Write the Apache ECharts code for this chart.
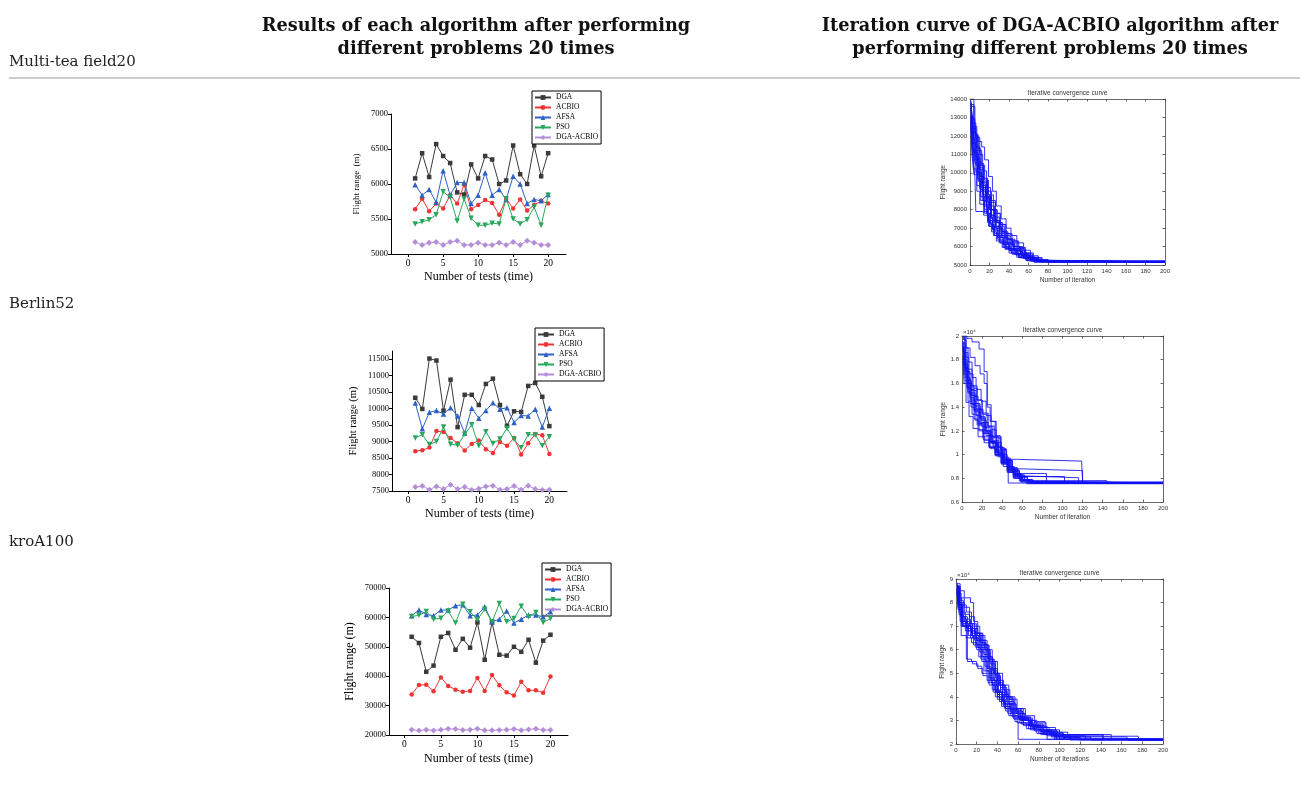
<!DOCTYPE html>
<html><head><meta charset="utf-8">
<script src="https://cdn.jsdelivr.net/npm/echarts@6/dist/echarts.min.js"></script>
<style>html,body{margin:0;padding:0;background:#fff}#c{width:1308px;height:809px}</style>
</head><body><div id="c"></div>
<script>
// ---------------- DATA ----------------
const testRuns = [1,2,3,4,5,6,7,8,9,10,11,12,13,14,15,16,17,18,19,20];
const algorithms = ['DGA','ACBIO','AFSA','PSO','DGA-ACBIO'];
const runTicks = [0,5,10,15,20];

// Multi-tea field20
const teaDGA   = [6080,6440,6100,6570,6400,6300,5880,5850,6280,6080,6400,6350,6000,6050,6550,6140,6000,6550,6110,6440];
const teaACBIO = [5640,5790,5610,5720,5650,5840,5720,5990,5640,5700,5770,5730,5560,5790,5650,5780,5620,5700,5760,5720];
const teaAFSA  = [5990,5840,5920,5740,6190,5840,6020,6020,5720,5840,6160,5840,5920,5780,6110,6000,5720,5780,5760,5850];
const teaPSO   = [5430,5460,5490,5560,5890,5810,5470,5790,5510,5410,5410,5440,5430,5790,5500,5430,5490,5670,5410,5840];
const teaDGAACBIO = [5170,5130,5160,5170,5130,5170,5190,5130,5130,5160,5130,5130,5160,5130,5170,5130,5190,5160,5130,5130];
const teaYTicks = [5000,5500,6000,6500,7000];

// Berlin52
const berDGA   = [10330,9990,11520,11460,9940,10880,9440,10420,10420,10110,10750,10910,10110,9480,9920,9900,10690,10780,10360,9470];
const berACBIO = [8710,8740,8820,9320,9290,9110,8950,8730,8930,9030,8770,8650,8990,8870,9110,8610,8950,9230,9190,8620];
const berAFSA  = [10170,9390,9890,9940,9840,10030,9780,9260,10010,9710,9940,10180,9980,10030,9580,9790,9780,9980,9440,10010];
const berPSO   = [9110,9210,8910,9000,9440,8920,8890,9220,9510,8870,9300,8940,9080,9400,9070,8810,9210,9200,8870,9150];
const berDGAACBIO = [7620,7650,7540,7640,7560,7690,7560,7620,7530,7570,7640,7660,7540,7560,7650,7540,7660,7560,7530,7540];
const berYTicks = [7500,8000,8500,9000,9500,10000,10500,11000,11500];

// kroA100
const kroDGA   = [53400,51300,41500,43600,53400,54700,49000,52700,49700,58300,45600,58300,47300,47000,50000,48300,52400,44600,52100,54100];
const kroACBIO = [33800,37000,37100,34900,39600,36700,35400,34700,35000,39400,35000,40400,36900,34500,33400,38100,35200,35200,34400,39900];
const kroAFSA  = [60600,62500,61000,60600,62500,62500,64000,64300,60600,60800,63600,58500,59400,62200,58100,59400,60800,60800,60200,61900];
const kroPSO   = [60300,60700,62000,59400,59700,62200,58100,64500,61900,59200,62800,58500,64700,58500,59600,63800,60200,61700,58300,59600];
const kroDGAACBIO = [21800,21500,21800,21500,21800,22100,22000,21700,21800,22100,21600,21600,21700,21800,22000,21600,21900,22100,21700,21700];
const kroYTicks = [20000,30000,40000,50000,60000,70000];

// Iteration curves (best-so-far breakpoints: [iteration, flight range])
const teaCurves = [
 [[1,13800],[3,12600],[5,11500],[8,10600],[11,9800],[14,9100],[18,8400],[22,7700],[26,7100],[30,6600],[35,6200],[40,5900],[47,5600],[55,5400],[63,5250],[72,5170],[200,5170]],
 [[1,13200],[2,12000],[4,10800],[7,9900],[10,9200],[13,8500],[17,7800],[21,7200],[25,6700],[30,6300],[36,5900],[43,5600],[50,5400],[58,5230],[66,5130],[200,5130]],
 [[1,14000],[4,13000],[6,12000],[9,11200],[12,10400],[15,9600],[19,8800],[24,8000],[28,7300],[33,6800],[38,6400],[44,6000],[52,5600],[60,5400],[70,5250],[82,5160],[200,5160]],
 [[1,12800],[3,11000],[5,9800],[6,7900],[15,7900],[18,7400],[23,6900],[28,6400],[34,6000],[42,5700],[50,5450],[60,5300],[70,5190],[200,5190]],
 [[1,13500],[3,12400],[6,11200],[9,10300],[13,9500],[17,8700],[21,8000],[26,7400],[31,6900],[37,6400],[44,6000],[51,5700],[58,5450],[66,5280],[75,5170],[200,5170]],
 [[1,13000],[2,11800],[5,10700],[8,9600],[11,8700],[15,8000],[19,7400],[24,6900],[29,6500],[34,6100],[40,5800],[47,5550],[55,5350],[63,5200],[200,5200]],
 [[1,13600],[5,12100],[8,11700],[12,11400],[15,10700],[19,9800],[23,9000],[27,8200],[32,7500],[37,7000],[42,6600],[48,6200],[55,5800],[62,5500],[70,5300],[80,5150],[200,5150]],
 [[1,12500],[3,11200],[6,10000],[10,9100],[14,8300],[18,7600],[23,7000],[28,6500],[34,6100],[40,5800],[48,5550],[56,5380],[65,5230],[74,5140],[200,5140]],
 [[1,13900],[2,13000],[4,11800],[7,10500],[10,9500],[14,8700],[19,8000],[24,7400],[30,6800],[36,6300],[43,5900],[52,5550],[61,5330],[71,5180],[200,5180]],
 [[1,13300],[3,12200],[6,11000],[9,10000],[12,9300],[16,8600],[20,8000],[25,7300],[30,6700],[36,6200],[42,5850],[49,5600],[57,5400],[66,5250],[76,5150],[200,5150]],
 [[1,12900],[3,11600],[6,10400],[9,9500],[13,8800],[17,8100],[22,7500],[27,7000],[33,6500],[39,6100],[46,5750],[54,5500],[62,5320],[70,5200],[200,5200]],
 [[1,13700],[4,12500],[7,11400],[10,10500],[14,9700],[18,9000],[22,8400],[26,7800],[31,7200],[36,6700],[42,6300],[49,5900],[56,5600],[64,5380],[73,5220],[84,5140],[200,5140]],
 [[1,12600],[2,11400],[4,10200],[7,9300],[11,8500],[15,7800],[20,7100],[25,6600],[31,6200],[37,5900],[45,5600],[53,5380],[61,5220],[200,5220]],
 [[1,13400],[3,12700],[6,11900],[10,11000],[13,10100],[17,9200],[21,8500],[26,7800],[31,7200],[37,6700],[43,6300],[50,5950],[57,5650],[65,5400],[74,5230],[86,5160],[200,5160]],
 [[1,13100],[3,11900],[5,10900],[8,10000],[12,9200],[16,8400],[21,7700],[26,7100],[32,6600],[38,6200],[45,5850],[53,5550],[61,5340],[69,5190],[200,5190]],
 [[1,12700],[3,11500],[5,10500],[8,9700],[11,9000],[14,8200],[18,7300],[22,6800],[27,6300],[33,5950],[40,5650],[48,5420],[57,5260],[66,5140],[200,5140]],
 [[1,13800],[2,12900],[5,12000],[8,11300],[11,10400],[14,9500],[18,8700],[22,8000],[27,7300],[33,6800],[39,6400],[46,6000],[54,5650],[62,5420],[70,5260],[78,5170],[200,5170]],
 [[1,13000],[4,11900],[7,10800],[10,9800],[13,9000],[17,8300],[21,7600],[26,7000],[32,6500],[38,6150],[45,5800],[52,5550],[60,5350],[68,5210],[200,5210]],
 [[1,12400],[2,11000],[4,9900],[7,9000],[10,8300],[14,7700],[19,7100],[24,6600],[30,6200],[36,5850],[43,5600],[51,5400],[59,5250],[67,5150],[200,5150]],
 [[1,13500],[3,12300],[5,11100],[8,10200],[12,9400],[16,8800],[20,8200],[25,7600],[30,7100],[35,6600],[41,6200],[48,5800],[56,5500],[64,5300],[72,5180],[200,5180]]
];
const berCurves = [
 [[1,19900],[3,18600],[6,17200],[10,15800],[15,14600],[20,13400],[25,12400],[30,11500],[36,10600],[42,9700],[48,8900],[55,8300],[62,7900],[70,7620],[200,7620]],
 [[1,19500],[2,17500],[4,16000],[8,14800],[12,13700],[17,12600],[22,11800],[28,11000],[34,10200],[40,9400],[46,8700],[53,8200],[60,7800],[68,7580],[200,7580]],
 [[1,20000],[5,19800],[10,19500],[17,18900],[22,17000],[25,14000],[28,12800],[33,11600],[38,10500],[44,9400],[50,8600],[57,8100],[65,7750],[75,7600],[200,7600]],
 [[1,18500],[3,16500],[6,15200],[10,14200],[14,13300],[19,12400],[24,11600],[30,10900],[36,10100],[42,9300],[49,8700],[56,8400],[82,8400],[84,7650],[200,7650]],
 [[1,19000],[2,17800],[5,16300],[9,15200],[13,14100],[18,13000],[23,12000],[29,11100],[35,10300],[41,9600],[54,9450],[119,9450],[120,7620],[200,7620]],
 [[1,19700],[4,18200],[7,16800],[11,15600],[15,14600],[20,13500],[26,12400],[32,11400],[38,10400],[44,9500],[50,8800],[57,8650],[118,8650],[120,7600],[200,7600]],
 [[1,18800],[3,17000],[7,15500],[12,14300],[17,13100],[23,12000],[29,11000],[35,10100],[41,9300],[47,8600],[53,8000],[60,7800],[144,7800],[145,7600],[200,7600]],
 [[1,19200],[2,18000],[5,16500],[8,15000],[12,13800],[16,12600],[21,11500],[27,10700],[33,10000],[39,9300],[45,8500],[51,8000],[58,7700],[65,7560],[200,7560]],
 [[1,18200],[3,16200],[6,14500],[10,13400],[15,12500],[21,11800],[27,11000],[33,10200],[40,9400],[47,8700],[54,8200],[62,7850],[71,7650],[200,7650]],
 [[1,19800],[3,19000],[6,17800],[10,16500],[14,15500],[19,14500],[24,13300],[29,12100],[34,11000],[39,10000],[45,9000],[51,8300],[58,7900],[66,7600],[200,7600]],
 [[1,17900],[2,16000],[4,14400],[7,13200],[11,12200],[16,11500],[22,11000],[28,10500],[34,9900],[40,9200],[46,8500],[52,8100],[59,7690],[200,7690]],
 [[1,19400],[3,17600],[6,16000],[10,15000],[14,13900],[19,12900],[24,12000],[30,11200],[36,10400],[42,9600],[48,8800],[55,8200],[62,8050],[114,8050],[116,7580],[200,7580]],
 [[1,18700],[3,17300],[6,16200],[9,15400],[14,14300],[18,13200],[23,12300],[28,11500],[34,10700],[40,9800],[46,9000],[52,8400],[58,8150],[100,8150],[102,7600],[200,7600]],
 [[1,19600],[2,18500],[4,17000],[8,15800],[12,14900],[16,13800],[21,12700],[26,11600],[31,10700],[36,9800],[41,9000],[46,7600],[200,7600]],
 [[1,19000],[3,17400],[5,15700],[8,14300],[12,13000],[16,12100],[21,11300],[27,10600],[33,9900],[39,9200],[45,8600],[51,8100],[57,7800],[64,7540],[200,7540]],
 [[1,18400],[2,16800],[5,15600],[9,14600],[13,13600],[18,12700],[23,11900],[28,11100],[34,10300],[40,9500],[46,8800],[53,8300],[60,7900],[68,7700],[100,7700],[102,7600],[200,7600]],
 [[1,19900],[4,19000],[8,18200],[13,17500],[18,16800],[22,16000],[25,14200],[29,12800],[34,11500],[39,10400],[44,9500],[50,8700],[57,8100],[65,7700],[74,7560],[200,7560]],
 [[1,18900],[3,17100],[6,15300],[9,14000],[13,12900],[17,12000],[22,11200],[27,10600],[33,10000],[39,9300],[45,8700],[52,8200],[59,7850],[66,7620],[200,7620]]
];
const kroCurves = [
 [[1,87000],[3,80000],[5,74000],[9,70000],[14,68000],[19,65000],[24,60000],[29,55000],[34,50000],[39,45000],[45,40000],[52,35000],[60,31000],[70,28000],[82,25500],[95,23500],[110,22000],[200,22000]],
 [[1,86000],[2,78000],[4,72000],[10,70000],[16,66000],[22,62000],[27,58000],[32,52000],[37,47000],[43,42000],[50,37000],[58,33000],[67,30000],[78,27000],[90,24500],[104,22800],[120,21800],[200,21800]],
 [[1,88000],[4,85000],[8,82000],[14,80000],[17,72000],[21,67000],[26,62000],[31,56000],[36,50000],[41,45000],[47,40000],[54,35000],[62,31500],[72,28500],[84,26000],[97,24000],[140,24000],[142,22000],[200,22000]],
 [[1,85000],[3,76000],[5,66000],[10,65000],[15,63000],[20,60000],[25,55000],[30,50000],[35,45000],[40,40000],[46,36000],[53,32000],[61,29000],[70,26500],[80,24500],[92,23000],[165,23000],[166,21600],[200,21600]],
 [[1,86500],[3,79000],[6,70000],[10,56000],[15,55000],[20,53000],[25,50000],[30,47000],[35,43000],[40,39000],[47,35000],[55,31000],[65,28000],[76,25500],[88,23500],[100,22100],[200,22100]],
 [[1,87500],[2,82000],[5,76000],[9,73000],[14,69000],[19,66000],[24,63000],[29,59000],[33,54000],[38,48000],[43,43000],[49,38000],[56,34000],[64,30500],[73,27500],[84,25000],[96,23000],[110,21700],[200,21700]],
 [[1,84000],[3,75000],[7,70000],[12,66000],[17,62000],[22,57000],[27,51000],[32,45000],[38,40000],[44,36000],[51,32000],[59,29000],[68,26500],[78,24500],[88,22000],[200,22000]],
 [[1,86000],[4,80000],[8,75000],[13,71000],[18,67000],[23,63000],[28,60000],[32,48000],[37,43000],[42,39000],[48,35000],[55,31500],[63,28500],[72,26000],[82,24000],[95,22100],[200,22100]],
 [[1,85500],[2,77000],[5,70000],[10,69000],[15,66000],[20,62000],[25,57000],[30,52000],[34,47000],[39,42000],[45,38000],[52,34500],[60,31500],[70,29000],[85,29000],[87,26000],[100,24000],[148,24000],[150,21900],[200,21900]],
 [[1,87000],[3,81000],[7,74000],[11,71000],[16,69000],[21,66000],[26,62000],[31,57000],[35,51000],[40,46000],[45,41000],[51,37000],[58,33000],[66,30000],[76,27500],[88,25000],[103,23000],[118,21800],[200,21800]],
 [[1,86000],[3,78000],[6,70000],[11,55000],[16,54000],[21,52000],[26,49000],[31,46000],[36,42000],[42,38000],[48,34000],[56,30500],[65,28000],[75,26000],[85,24000],[97,22000],[200,22000]],
 [[1,88500],[2,84000],[5,79000],[10,76000],[15,71000],[20,67000],[25,64000],[30,60000],[35,55000],[40,50000],[45,45000],[51,40000],[57,35000],[65,31000],[74,28000],[85,25500],[98,23300],[176,23300],[177,21600],[200,21600]],
 [[1,85000],[3,77000],[6,71000],[12,68000],[18,64000],[23,59000],[28,53000],[33,47000],[38,42000],[44,37000],[50,33000],[57,29500],[60,22000],[200,22000]],
 [[1,86800],[3,80000],[6,73000],[10,70000],[15,67000],[20,64000],[25,61000],[30,57000],[35,52000],[40,47000],[46,43000],[52,39000],[59,35000],[67,32000],[76,29500],[86,27000],[96,25000],[108,23500],[125,22000],[200,22000]],
 [[1,84500],[2,79000],[5,72000],[9,68000],[14,65000],[19,61000],[24,56000],[29,51000],[34,46000],[40,41000],[46,37000],[53,33500],[61,30500],[70,28000],[80,26000],[92,24000],[105,21900],[200,21900]],
 [[1,87000],[4,82000],[8,78000],[13,74000],[18,70000],[23,66000],[28,62000],[32,56000],[37,50000],[42,45000],[48,40000],[55,35000],[63,31000],[72,28000],[82,25500],[94,23800],[140,23800],[142,22000],[200,22000]],
 [[1,86000],[3,79000],[6,72000],[11,69000],[16,65000],[21,61000],[26,57000],[31,52000],[36,47000],[41,42000],[47,37000],[54,33000],[62,30000],[71,27500],[81,25500],[92,23500],[104,22000],[200,22000]],
 [[1,85800],[2,80000],[4,74000],[8,72000],[13,70000],[18,67000],[23,64000],[28,60000],[33,55000],[38,49000],[43,44000],[49,39000],[56,34000],[64,30000],[73,27000],[83,24800],[95,23000],[128,23000],[130,21700],[200,21700]]
];

// ---------------- CHART ----------------
const serif = '"Liberation Serif", "Times New Roman", serif';
const headSerif = '"DejaVu Serif", "Liberation Serif", serif';
const sans = '"Liberation Sans", Arial, sans-serif';
const grids = [], xAxes = [], yAxes = [], series = [], legends = [], graphics = [];

const algoStyle = [
  {color:'#3a3a3a', symbol:'rect', symbolSize:4.5},
  {color:'#f03434', symbol:'circle', symbolSize:4.5},
  {color:'#2c62c4', symbol:'triangle', symbolSize:5.5},
  {color:'#29a85d', symbol:'triangle', symbolSize:5.5, symbolRotate:180},
  {color:'#b58ed9', symbol:'diamond', symbolSize:6}
];

function textEl(x, y, text, font, fill, align){
  return {type:'text', x:x, y:y, silent:true,
    style:{text:text, font:font, fill:fill, textAlign:align, align:align,
           textVerticalAlign:'middle', verticalAlign:'middle'}};
}

function addLeft(cfg){
  const gi = grids.length;
  grids.push({left:cfg.box[0], top:cfg.box[1], width:cfg.box[2], height:cfg.box[3], containLabel:false});
  const axisCommon = {
    axisLine:{show:true, onZero:false, lineStyle:{color:'#000', width:1}},
    splitLine:{show:false}
  };
  const xi = xAxes.length;
  xAxes.push(Object.assign({type:'value', gridIndex:gi, min:cfg.xRange[0], max:cfg.xRange[1],
    axisTick:{show:true, inside:false, length:3, customValues:runTicks, lineStyle:{color:'#000'}},
    axisLabel:{customValues:runTicks, fontFamily:serif, fontSize:9.5, color:'#000', margin:4, formatter:v=>String(v)},
    name:'Number of tests (time)', nameLocation:'middle', nameGap:cfg.xNameGap,
    nameTextStyle:{fontFamily:serif, fontSize:12, color:'#000'}}, axisCommon));
  const yi = yAxes.length;
  yAxes.push(Object.assign({type:'value', gridIndex:gi, min:cfg.yRange[0], max:cfg.yRange[1],
    axisTick:{show:true, inside:false, length:3, customValues:cfg.yTicks, lineStyle:{color:'#000'}},
    axisLabel:{customValues:cfg.yTicks, fontFamily:serif, fontSize:8.5, color:'#000', margin:3, formatter:v=>String(v)},
    name:cfg.yName, nameLocation:'middle', nameGap:cfg.yNameGap,
    nameTextStyle:{fontFamily:serif, fontSize:cfg.yNameSize, color:'#000'}}, axisCommon));
  algorithms.forEach((a,k)=>{
    const st = algoStyle[k];
    series.push({type:'line', name:a, xAxisIndex:xi, yAxisIndex:yi,
      data:testRuns.map((t,i)=>[t, cfg.values[k][i]]),
      symbol:st.symbol, symbolSize:st.symbolSize, symbolRotate:st.symbolRotate||0,
      showAllSymbol:true,
      itemStyle:{color:st.color}, lineStyle:{color:st.color, width:1}, z:3+k});
  });
  legends.push({orient:'vertical', left:cfg.legend[0], top:cfg.legend[1], data:algorithms,
    itemWidth:16, itemHeight:6, itemGap:1, padding:[2,3,2,2],
    borderColor:'#000', borderWidth:1, backgroundColor:'#fff',
    textStyle:{fontFamily:serif, fontSize:7.5, color:'#000', lineHeight:9},
    selectedMode:false});
}

function addRight(cfg){
  const gi = grids.length;
  const [l,t,w,h] = cfg.box;
  grids.push({left:l, top:t, width:w, height:h, containLabel:false});
  const line = {show:true, onZero:false, lineStyle:{color:'#444', width:0.8}};
  const tick = {show:true, inside:true, length:2.5, lineStyle:{color:'#444', width:0.8}};
  const fmt = cfg.scale ? (v=>String(Number((v/cfg.scale).toFixed(1)))) : (v=>String(v));
  const xb = xAxes.length;
  xAxes.push({type:'value', gridIndex:gi, position:'bottom', min:0, max:200, interval:20,
    axisLine:line, axisTick:tick, splitLine:{show:false},
    axisLabel:{fontFamily:sans, fontSize:6, color:'#333', margin:3},
    name:cfg.xName, nameLocation:'middle', nameGap:12,
    nameTextStyle:{fontFamily:sans, fontSize:6.5, color:'#333'}});
  xAxes.push({type:'value', gridIndex:gi, position:'top', min:0, max:200, interval:20,
    axisLine:line, axisTick:tick, splitLine:{show:false}, axisLabel:{show:false}});
  const yl = yAxes.length;
  yAxes.push({type:'value', gridIndex:gi, position:'left', min:cfg.yRange[0], max:cfg.yRange[1], interval:cfg.yInterval,
    axisLine:line, axisTick:tick, splitLine:{show:false},
    axisLabel:{fontFamily:sans, fontSize:6, color:'#333', margin:3, formatter:fmt},
    name:'Flight range', nameLocation:'middle', nameGap:cfg.yNameGap,
    nameTextStyle:{fontFamily:sans, fontSize:6.5, color:'#333'}});
  yAxes.push({type:'value', gridIndex:gi, position:'right', min:cfg.yRange[0], max:cfg.yRange[1], interval:cfg.yInterval,
    axisLine:line, axisTick:tick, splitLine:{show:false}, axisLabel:{show:false}});
  cfg.curves.forEach((c,k)=>{
    series.push({type:'line', name:cfg.id+'-'+(k+1), xAxisIndex:xb, yAxisIndex:yl, data:c,
      step:'end', symbol:'none', silent:true, clip:true,
      lineStyle:{color:'#1010f2', width:1, opacity:0.85}, z:2});
  });
  graphics.push(textEl(l + w/2, t - 6, 'Iterative convergence curve', '6.5px ' + sans, '#333', 'center'));
  if (cfg.scale) {
    graphics.push(textEl(l + 1, t - 4, '×10⁴', '6px ' + sans, '#333', 'left'));
  }
}

addLeft({box:[391,114,175,140], xRange:[-2.45,22.55], yRange:[5000,7000], yTicks:teaYTicks,
  values:[teaDGA,teaACBIO,teaAFSA,teaPSO,teaDGAACBIO], yName:'Flight range  (m)', yNameSize:9, yNameGap:30, xNameGap:17,
  legend:[532,91]});
addLeft({box:[392,351,175,140], xRange:[-2.3,22.5], yRange:[7500,11750], yTicks:berYTicks,
  values:[berDGA,berACBIO,berAFSA,berPSO,berDGAACBIO], yName:'Flight range (m)', yNameSize:10.5, yNameGap:33, xNameGap:17,
  legend:[535,328]});
addLeft({box:[389,588,179,147], xRange:[-2.1,22.4], yRange:[20000,70000], yTicks:kroYTicks,
  values:[kroDGA,kroACBIO,kroAFSA,kroPSO,kroDGAACBIO], yName:'Flight range (m)', yNameSize:12, yNameGap:33, xNameGap:18,
  legend:[542,563]});

addRight({id:'tea', box:[970,99,195,166], yRange:[5000,14000], yInterval:1000, curves:teaCurves,
  xName:'Number of iteration', yNameGap:21});
addRight({id:'ber', box:[962,336,201,166], yRange:[6000,20000], yInterval:2000, scale:10000, curves:berCurves,
  xName:'Number of iteration', yNameGap:13});
addRight({id:'kro', box:[956,579,207,165], yRange:[20000,90000], yInterval:10000, scale:10000, curves:kroCurves,
  xName:'Number of Iterations', yNameGap:10});

// table header / row labels
const headFont = 'bold 17.7px ' + headSerif;
const rowFont = '15px ' + headSerif;
graphics.push(
  textEl(476, 26, 'Results of each algorithm after performing', headFont, '#111', 'center'),
  textEl(476, 49, 'different problems 20 times', headFont, '#111', 'center'),
  textEl(1050, 26, 'Iteration curve of DGA-ACBIO algorithm after', headFont, '#111', 'center'),
  textEl(1050, 49, 'performing different problems 20 times', headFont, '#111', 'center'),
  textEl(9, 62, 'Multi-tea field20', rowFont, '#222', 'left'),
  textEl(9, 304, 'Berlin52', rowFont, '#222', 'left'),
  textEl(9, 542, 'kroA100', rowFont, '#222', 'left'),
  {type:'line', silent:true, shape:{x1:9, y1:78, x2:1300, y2:78}, style:{stroke:'#9a9a9a', lineWidth:1.2}}
);

const chart = echarts.init(document.getElementById('c'), null, {renderer:'canvas'});
chart.setOption({
  animation:false,
  backgroundColor:'#fff',
  grid:grids, xAxis:xAxes, yAxis:yAxes, series:series, legend:legends,
  graphic:graphics,
  tooltip:{show:false}
});
</script>
</body></html>
